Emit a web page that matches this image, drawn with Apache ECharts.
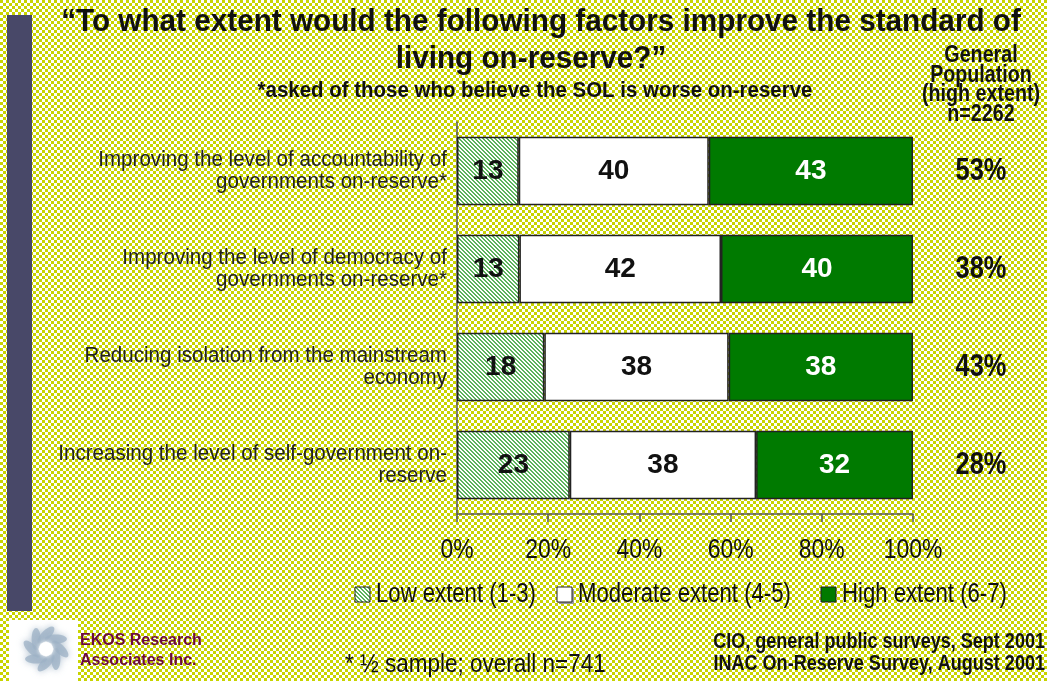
<!DOCTYPE html>
<html>
<head>
<meta charset="utf-8">
<script src="https://cdn.jsdelivr.net/npm/echarts@6/dist/echarts.min.js"></script>
<style>
  html, body { margin: 0; padding: 0; }
  #chart { width: 1047px; height: 681px; }
</style>
</head>
<body>
<div id="chart"></div>
<script>
// Survey items, top to bottom
const categories = [
  'Improving the level of accountability of\ngovernments on-reserve*',
  'Improving the level of democracy of\ngovernments on-reserve*',
  'Reducing isolation from the mainstream\neconomy',
  'Increasing the level of self-government on-\nreserve'
];
// On-reserve responses (% of respondents)
const lowExtent = [13, 13, 18, 23];
const moderateExtent = [40, 42, 38, 38];
const highExtent = [43, 40, 38, 32];
// General population, high extent (%)
const generalPopulation = [53, 38, 43, 28];
// Percent axis ticks
const xTicks = [0, 20, 40, 60, 80, 100];
const seriesNames = ['Low extent (1-3)', 'Moderate extent (4-5)', 'High extent (6-7)'];

const SANS = '"Liberation Sans", Arial, sans-serif';
const NARROW_SCALE = 0.82; // horizontal squeeze to get a narrow face

// Each bar is scaled so its three parts fill 0-100%
const totals = categories.map((_, i) => lowExtent[i] + moderateExtent[i] + highExtent[i]);
const share = arr => arr.map((v, i) => v / totals[i] * 100);

// Speckled yellow page background
function makeBackgroundTile() {
  const c = document.createElement('canvas');
  c.width = 6; c.height = 6;
  const g = c.getContext('2d');
  g.fillStyle = '#ffffff'; g.fillRect(0, 0, 6, 6);
  g.fillStyle = '#c8d400';
  g.fillRect(0, 0, 3, 3);
  g.fillRect(3, 3, 3, 3);
  return c;
}
// Diagonal green hatch for the low-extent segment
function makeHatchTile() {
  const c = document.createElement('canvas');
  c.width = 4; c.height = 4;
  const g = c.getContext('2d');
  g.fillStyle = '#ffffff'; g.fillRect(0, 0, 4, 4);
  g.fillStyle = '#5cb35c';
  for (let y = 0; y < 4; y++) {
    g.fillRect(y % 4, y, 1, 1);
    g.fillRect((y + 1) % 4, y, 1, 1);
  }
  return c;
}

// Condensed text element (Liberation Sans squeezed horizontally)
function narrowText(x, y, text, size, opts) {
  opts = opts || {};
  return {
    type: 'text', x: x, y: y, scaleX: opts.scale || NARROW_SCALE, silent: true,
    style: {
      text: text,
      font: (opts.bold ? 'bold ' : '') + size + 'px ' + SANS,
      fill: opts.fill || '#111',
      align: opts.align || 'left',
      verticalAlign: opts.vAlign || 'middle',
      lineHeight: opts.lineHeight || Math.round(size * 1.1)
    }
  };
}

const el = document.getElementById('chart');
el.style.backgroundImage = 'url(' + makeBackgroundTile().toDataURL() + ')';
const chart = echarts.init(el, null, { renderer: 'canvas' });

const hatch = { image: makeHatchTile(), repeat: 'repeat' };
const fills = [hatch, '#ffffff', '#007a00'];
const raw = [lowExtent, moderateExtent, highExtent];
const labelColors = ['#111', '#111', '#ffffff'];

const series = raw.map((arr, s) => ({
  name: seriesNames[s],
  type: 'bar',
  stack: 'total',
  barWidth: '70%',
  data: share(arr),
  itemStyle: { color: fills[s], borderColor: '#222', borderWidth: 1.5 },
  label: {
    show: true,
    position: 'inside',
    formatter: p => String(arr[p.dataIndex]),
    color: labelColors[s],
    fontFamily: SANS,
    fontWeight: 'bold',
    fontSize: 28
  },
  emphasis: { disabled: true }
}));

chart.setOption({
  backgroundColor: 'transparent',
  animation: false,
  grid: { left: 457, right: 134, top: 122, bottom: 167, containLabel: false },
  xAxis: {
    type: 'value',
    min: 0,
    max: 100,
    interval: 20,
    axisLine: { show: true, lineStyle: { color: '#555', width: 1.5 } },
    axisTick: { show: true, length: 8, lineStyle: { color: '#555', width: 1.5 } },
    splitLine: { show: false },
    axisLabel: { show: false }
  },
  yAxis: {
    type: 'category',
    data: categories,
    inverse: true,
    axisLine: { show: true, lineStyle: { color: '#555', width: 1.5 } },
    axisTick: { show: false },
    axisLabel: { show: false }
  },
  series: series
});

// Axis labels, right-hand column and legend, placed through the chart's own scales
const gridLeft = chart.convertToPixel({ xAxisIndex: 0 }, 0);
const gridRight = chart.convertToPixel({ xAxisIndex: 0 }, 100);
const axisY = chart.convertToPixel({ yAxisIndex: 0 }, categories[categories.length - 1]) + 49;
const labels = [];

xTicks.forEach(v => {
  labels.push(narrowText(chart.convertToPixel({ xAxisIndex: 0 }, v), axisY + 37, v + '%', 27, { align: 'center', scale: 0.85 }));
});
categories.forEach((c, i) => {
  const y = chart.convertToPixel({ yAxisIndex: 0 }, c);
  labels.push(narrowText(gridLeft - 10, y, c, 22, { align: 'right', fill: '#222', lineHeight: 22, scale: 0.935 }));
  labels.push(narrowText(gridRight + 68, y, generalPopulation[i] + '%', 31, { align: 'center', bold: true }));
});

// Legend
const legendX = [355, 557, 821];
const legendY = 595;
seriesNames.forEach((name, s) => {
  if (s === 1) {
    labels.push({
      type: 'rect', silent: true,
      shape: { x: legendX[s] + 2, y: legendY - 6, width: 15, height: 15 },
      style: { fill: '#9a9a9a' }
    });
  }
  labels.push({
    type: 'rect', silent: true,
    shape: { x: legendX[s], y: legendY - 8, width: 15, height: 15 },
    style: { fill: fills[s], stroke: '#222', lineWidth: 1 }
  });
  labels.push(narrowText(legendX[s] + 21, legendY, name, 27));
});

// Swirl logo made of soft blue blades
const logo = [{ type: 'rect', silent: true, shape: { x: 9, y: 620, width: 69, height: 61 }, style: { fill: '#ffffff' } }];
for (let k = 0; k < 8; k++) {
  const a = k / 8 * Math.PI * 2;
  logo.push({
    type: 'ellipse', silent: true,
    x: 46 + Math.cos(a) * 14, y: 649 + Math.sin(a) * 14,
    rotation: -(a + Math.PI / 4),
    shape: { cx: 0, cy: 0, rx: 11, ry: 4.5 },
    style: { fill: '#9eb2c6', opacity: 0.75, shadowBlur: 7, shadowColor: '#9eb2c6' }
  });
}
logo.push({ type: 'circle', silent: true, shape: { cx: 46, cy: 649, r: 7 }, style: { fill: '#ffffff', shadowBlur: 4, shadowColor: '#ffffff' } });

chart.setOption({
  graphic: [
    { type: 'rect', silent: true, shape: { x: 7, y: 15, width: 25, height: 596 }, style: { fill: '#484868' } },
    narrowText(541, 22, '\u201CTo what extent would the following factors improve the standard of', 31, { bold: true, align: 'center', scale: 0.958 }),
    narrowText(531, 59, 'living on-reserve?\u201D', 31, { bold: true, align: 'center', scale: 0.958 }),
    narrowText(535, 91, '*asked of those who believe the SOL is worse on-reserve', 22, { bold: true, align: 'center', scale: 0.93 }),
    narrowText(981, 46, 'General\nPopulation\n(high extent)\nn=2262', 24, { bold: true, align: 'center', vAlign: 'top', lineHeight: 19.5 }),
    ...labels,
    ...logo,
    { type: 'text', silent: true, x: 80, y: 641, style: { text: 'EKOS Research', font: 'bold 16px ' + SANS, fill: '#6b0a3e', verticalAlign: 'middle' } },
    { type: 'text', silent: true, x: 80, y: 661, style: { text: 'Associates Inc.', font: 'bold 16px ' + SANS, fill: '#6b0a3e', verticalAlign: 'middle' } },
    narrowText(345, 665, '* \u00BD sample; overall n=741', 25, { scale: 0.9 }),
    narrowText(1045, 642, 'CIO, general public surveys, Sept 2001', 22, { bold: true, align: 'right' }),
    narrowText(1045, 664, 'INAC On-Reserve Survey, August 2001', 22, { bold: true, align: 'right' })
  ]
});
</script>
</body>
</html>
